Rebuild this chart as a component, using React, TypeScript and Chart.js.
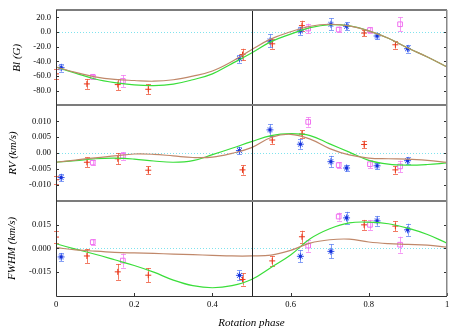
import React, { useEffect, useRef } from 'react';
import { Chart, registerables } from 'chart.js';

Chart.register(...registerables);

// ---- model curves (sampled along rotation phase) ----
const curvePhase = [0, 0.05, 0.1, 0.15, 0.2, 0.25, 0.3, 0.35, 0.4, 0.45, 0.5, 0.55, 0.6, 0.65, 0.7, 0.75, 0.8, 0.85, 0.9, 0.95, 1];
const greenBl = [-47.6, -56, -64, -69, -72, -73, -71, -65, -57, -43, -28.5, -13, -2.7, 6, 10, 8.4, 1.7, -8.5, -21.8, -34, -47.6];
const brownBl = [-47.6, -55, -61, -64.5, -66, -67, -65, -60, -53, -40, -24, -9.3, 0.4, 8, 10.7, 8.4, 1.7, -8.5, -21.8, -34, -47.6];
const greenRv = [-0.0029, -0.0024, -0.0018, -0.0016, -0.0019, -0.0025, -0.0029, -0.0024, -0.0005, 0.0015, 0.0036, 0.0055, 0.0061, 0.0055, 0.0029, 0.0003, -0.0023, -0.0035, -0.0038, -0.0036, -0.0031];
const brownRv = [-0.0029, -0.0022, -0.0015, -0.0009, -0.0003, -0.0004, -0.0009, -0.0014, -0.0013, -0.0001, 0.0017, 0.0049, 0.0059, 0.0044, 0.0014, -0.0006, -0.0016, -0.0018, -0.0019, -0.0023, -0.0029];
const greenFw = [0.0029, -0.0005, -0.0037, -0.0072, -0.0108, -0.015, -0.02, -0.0235, -0.0248, -0.0235, -0.0196, -0.012, -0.0042, 0.006, 0.0123, 0.016, 0.0165, 0.0155, 0.0127, 0.0087, 0.0033];
const brownFw = [0.0004, -0.0009, -0.0018, -0.0025, -0.0029, -0.0032, -0.0036, -0.004, -0.0044, -0.0048, -0.0048, -0.0043, -0.0013, 0.0033, 0.0054, 0.0058, 0.004, 0.003, 0.0025, 0.002, 0.0008];

// ---- observations: red series ----
const redPhase = [0.0, 0.079, 0.158, 0.236, 0.477, 0.553, 0.629, 0.788, 0.868];
const redBl = [-57, -70.7, -71.6, -78, -30.7, -16, 8.8, -1.3, -17.3];
const redBlErr = [6.7, 6.7, 7.5, 6.7, 8, 6.7, 6.7, 4, 5.3];
const redRv = [-0.0084, -0.0029, -0.0018, -0.0054, -0.0053, 0.0041, 0.006, 0.0027, -0.0053];
const redRvErr = [0.0012, 0.0015, 0.0018, 0.0012, 0.0015, 0.0012, 0.0012, 0.0012, 0.0012];
const redFw = [0.0071, -0.0048, -0.0148, -0.0169, -0.0196, -0.0079, 0.0073, 0.0148, 0.014];
const redFwErr = [0.0038, 0.0044, 0.005, 0.0044, 0.0038, 0.0031, 0.0038, 0.0031, 0.0031];

// ---- observations: blue series ----
const bluePhase = [0.013, 0.469, 0.547, 0.625, 0.703, 0.743, 0.821, 0.899];
const blueBl = [-48.5, -36.3, -12, 1.7, 10.7, 8, -5.3, -22.7];
const blueBlErr = [5.3, 5.3, 9, 5.3, 8, 5.3, 4, 5.3];
const blueRv = [-0.0077, 0.0008, 0.0073, 0.0028, -0.0027, -0.0047, -0.004, -0.0024];
const blueRvErr = [0.0012, 0.0012, 0.0018, 0.0015, 0.0018, 0.0009, 0.0009, 0.0012];
const blueFw = [-0.0054, -0.017, null, -0.005, -0.0019, 0.0192, 0.0173, 0.0117];
const blueFwErr = [0.0025, 0.0031, 0, 0.0038, 0.0044, 0.0038, 0.0031, 0.0038];

// ---- observations: magenta series ----
const magPhase = [0.094, 0.171, 0.645, 0.723, 0.803, 0.88];
const magBl = [-61, -66.7, 4.8, 3.5, 2.7, 10.7];
const magBlErr = [2.7, 8, 6.7, 4, 4, 9.3];
const magRv = [-0.003, -0.0009, 0.0098, -0.0038, -0.0035, -0.0042];
const magRvErr = [0.0008, 0.0012, 0.0015, 0.0009, 0.0012, 0.0018];
const magFw = [0.0039, -0.0077, 0.0017, 0.02, 0.0148, 0.0023];
const magFwErr = [0.0019, 0.0044, 0.0038, 0.0025, 0.0031, 0.005];

// ---- axes ----
const phaseTicks = [0, 0.2, 0.4, 0.6, 0.8, 1];
const phaseTickLabels = ['0', '0.2', '0.4', '0.6', '0.8', '1'];
const blTicks = [20, 0, -20, -40, -60, -80];
const blTickLabels = ['20.0', '0.0', '-20.0', '-40.0', '-60.0', '-80.0'];
const rvTicks = [0.01, 0.005, 0, -0.005, -0.01];
const rvTickLabels = ['0.010', '0.005', '0.00', '-0.005', '-0.010'];
const fwTicks = [0.015, 0, -0.015];
const fwTickLabels = ['0.015', '0.000', '-0.015'];
const markerPhase = 0.5;

const SERIF = "'Liberation Serif', 'DejaVu Serif', serif";
const GREEN = '#3ade3a';
const BROWN = '#c0886a';

function pts(xs: number[], ys: (number | null)[], es?: number[]) {
  const out: any[] = [];
  xs.forEach((x, i) => {
    const y = ys[i];
    if (y === null || y === undefined) return;
    out.push({ x, y, e: es ? es[i] : 0 });
  });
  return out;
}

function makeBlueMarker() {
  const c = document.createElement('canvas');
  c.width = 9;
  c.height = 9;
  const g = c.getContext('2d')!;
  g.strokeStyle = '#3355ee';
  g.lineWidth = 1;
  g.beginPath();
  g.moveTo(4.5, 1); g.lineTo(4.5, 8);
  g.moveTo(1, 4.5); g.lineTo(8, 4.5);
  g.moveTo(2, 2); g.lineTo(7, 7);
  g.moveTo(7, 2); g.lineTo(2, 7);
  g.stroke();
  g.fillStyle = '#1730d8';
  g.fillRect(3, 3, 3, 3);
  return c;
}

function tickLabeller(values: number[], labels: string[]) {
  return (v: any) => {
    const i = values.findIndex((t) => Math.abs(t - Number(v)) < 1e-9);
    return i >= 0 ? labels[i] : '';
  };
}

const decorPlugin = {
  id: 'decor',
  beforeDatasetsDraw(chart: any) {
    const { ctx, chartArea, scales } = chart;
    ctx.save();
    ['yBl', 'yRv', 'yFw'].forEach((id) => {
      const s = scales[id];
      const y = Math.round(s.getPixelForValue(0)) + 0.5;
      ctx.strokeStyle = '#7fe3ee';
      ctx.lineWidth = 1;
      ctx.setLineDash([1, 2]);
      ctx.beginPath();
      ctx.moveTo(chartArea.left, y);
      ctx.lineTo(chartArea.right, y);
      ctx.stroke();
    });
    ctx.setLineDash([]);
    chart.data.datasets.forEach((ds: any, di: number) => {
      if (!ds.errColor) return;
      const meta = chart.getDatasetMeta(di);
      const xs = scales[meta.xAxisID];
      const ys = scales[meta.yAxisID];
      ctx.strokeStyle = ds.errColor;
      ctx.lineWidth = 1;
      ds.data.forEach((p: any) => {
        if (!p.e) return;
        const x = Math.round(xs.getPixelForValue(p.x)) + 0.5;
        const y1 = ys.getPixelForValue(p.y - p.e);
        const y2 = ys.getPixelForValue(p.y + p.e);
        ctx.beginPath();
        ctx.moveTo(x, y1);
        ctx.lineTo(x, y2);
        ctx.moveTo(x - 2.5, Math.round(y1) + 0.5);
        ctx.lineTo(x + 2.5, Math.round(y1) + 0.5);
        ctx.moveTo(x - 2.5, Math.round(y2) + 0.5);
        ctx.lineTo(x + 2.5, Math.round(y2) + 0.5);
        ctx.stroke();
      });
    });
    ctx.restore();
  },
  afterDraw(chart: any) {
    const { ctx, chartArea, scales } = chart;
    const { left, right, top, bottom } = chartArea;
    ctx.save();
    const panels: [string, number[]][] = [
      ['yBl', blTicks],
      ['yRv', rvTicks],
      ['yFw', fwTicks],
    ];
    ctx.strokeStyle = '#333';
    ctx.lineWidth = 1;
    ctx.beginPath();
    panels.forEach(([id, ticks]) => {
      const s = scales[id];
      ticks.forEach((t) => {
        const y = Math.round(s.getPixelForValue(t)) + 0.5;
        ctx.moveTo(left, y);
        ctx.lineTo(left + 3, y);
        ctx.moveTo(right - 3, y);
        ctx.lineTo(right, y);
      });
    });
    phaseTicks.forEach((t) => {
      const x = Math.round(scales.x.getPixelForValue(t)) + 0.5;
      ctx.moveTo(x, bottom);
      ctx.lineTo(x, bottom - 3);
    });
    ctx.stroke();
    const vx = Math.round(scales.x.getPixelForValue(markerPhase)) + 0.5;
    ctx.strokeStyle = '#222';
    ctx.beginPath();
    ctx.moveTo(vx, top);
    ctx.lineTo(vx, bottom);
    ctx.stroke();
    ctx.strokeStyle = '#7c7c7c';
    ctx.lineWidth = 2;
    ctx.beginPath();
    panels.forEach(([id]) => {
      const s = scales[id];
      ctx.moveTo(left, Math.round(s.top));
      ctx.lineTo(right, Math.round(s.top));
      if (id !== 'yFw') {
        ctx.moveTo(left, Math.round(s.bottom));
        ctx.lineTo(right, Math.round(s.bottom));
      }
    });
    ctx.stroke();
    ctx.strokeStyle = '#888';
    ctx.lineWidth = 1.5;
    ctx.beginPath();
    ctx.moveTo(right - 0.25, top);
    ctx.lineTo(right - 0.25, bottom);
    ctx.stroke();
    ctx.strokeStyle = '#333';
    ctx.lineWidth = 1;
    ctx.beginPath();
    ctx.moveTo(left + 0.5, top);
    ctx.lineTo(left + 0.5, bottom + 0.5);
    ctx.lineTo(right, bottom + 0.5);
    ctx.stroke();
    ctx.restore();
  },
};

function yScale(min: number, max: number, ticks: number[], labels: string[], title: string, titlePad: number) {
  return {
    type: 'linear',
    position: 'left',
    stack: 'panels',
    stackWeight: 1,
    min,
    max,
    grid: { display: false, drawTicks: false },
    border: { display: false },
    afterBuildTicks: (s: any) => {
      s.ticks = ticks.map((v) => ({ value: v }));
    },
    afterFit: (s: any) => {
      s.width = 56;
    },
    ticks: {
      color: '#000',
      padding: 5,
      autoSkip: false,
      font: { family: SERIF, size: 8.5 },
      callback: tickLabeller(ticks, labels),
    },
    title: {
      display: true,
      text: title,
      color: '#000',
      font: { family: SERIF, size: 11, style: 'italic' },
      padding: { top: titlePad, bottom: 0 },
    },
  };
}

function panelDatasets(
  yAxisID: string,
  green: number[],
  brown: number[],
  red: number[], redE: number[],
  blue: (number | null)[], blueE: number[],
  mag: number[], magE: number[],
  blueMarker: HTMLCanvasElement
) {
  return [
    {
      data: pts(curvePhase, brown), yAxisID, showLine: true, borderColor: BROWN, borderWidth: 1.2,
      pointRadius: 0, tension: 0.4, fill: false,
    },
    {
      data: pts(curvePhase, green), yAxisID, showLine: true, borderColor: GREEN, borderWidth: 1.2,
      pointRadius: 0, tension: 0.4, fill: false,
    },
    {
      data: pts(redPhase, red, redE), yAxisID, showLine: false, pointStyle: 'cross', pointRadius: 3,
      borderColor: '#e8381c', borderWidth: 1, errColor: 'rgba(238,80,50,0.75)',
    },
    {
      data: pts(bluePhase, blue, blueE), yAxisID, showLine: false, pointStyle: blueMarker, pointRadius: 4,
      errColor: 'rgba(70,110,240,0.65)',
    },
    {
      data: pts(magPhase, mag, magE), yAxisID, showLine: false, pointStyle: 'rect', pointRadius: 3.3,
      borderColor: '#f070f0', backgroundColor: 'rgba(0,0,0,0)', borderWidth: 1, errColor: 'rgba(242,120,242,0.75)',
    },
  ];
}

export default function App() {
  const ref = useRef<HTMLCanvasElement | null>(null);
  useEffect(() => {
    if (!ref.current) return;
    const bm = makeBlueMarker();
    const chart = new Chart(ref.current, {
      type: 'scatter',
      data: {
        datasets: [
          ...panelDatasets('yBl', greenBl, brownBl, redBl, redBlErr, blueBl, blueBlErr, magBl, magBlErr, bm),
          ...panelDatasets('yRv', greenRv, brownRv, redRv, redRvErr, blueRv, blueRvErr, magRv, magRvErr, bm),
          ...panelDatasets('yFw', greenFw, brownFw, redFw, redFwErr, blueFw, blueFwErr, magFw, magFwErr, bm),
        ] as any,
      },
      options: {
        responsive: false,
        animation: false,
        devicePixelRatio: 1,
        layout: { padding: { top: 3, right: 23, left: 0, bottom: 0 } },
        plugins: { legend: { display: false }, tooltip: { enabled: false } },
        scales: {
          x: {
            type: 'linear',
            position: 'bottom',
            min: 0,
            max: 1,
            grid: { display: false, drawTicks: false },
            border: { display: false },
            afterBuildTicks: (s: any) => {
              s.ticks = phaseTicks.map((v) => ({ value: v }));
            },
            afterFit: (s: any) => {
              s.height = 34;
            },
            ticks: {
              color: '#000',
              padding: 4,
              maxRotation: 0,
              autoSkip: false,
              font: { family: SERIF, size: 8.5 },
              callback: tickLabeller(phaseTicks, phaseTickLabels),
            },
            title: {
              display: true,
              text: 'Rotation phase',
              color: '#000',
              font: { family: SERIF, size: 11, style: 'italic' },
              padding: { top: 0, bottom: 0 },
            },
          },
          yFw: yScale(-0.03, 0.03, fwTicks, fwTickLabels, 'FWHM (km/s)', 6),
          yRv: yScale(-0.015, 0.015, rvTicks, rvTickLabels, 'RV (km/s)', 7),
          yBl: yScale(-100, 30, blTicks, blTickLabels, 'Bl (G)', 11),
        } as any,
      },
      plugins: [decorPlugin as any],
    });
    return () => chart.destroy();
  }, []);
  return (
    <canvas
      ref={ref}
      width={470}
      height={330}
      style={{ position: 'absolute', left: 0, top: 0, width: 470, height: 330 }}
    />
  );
}
